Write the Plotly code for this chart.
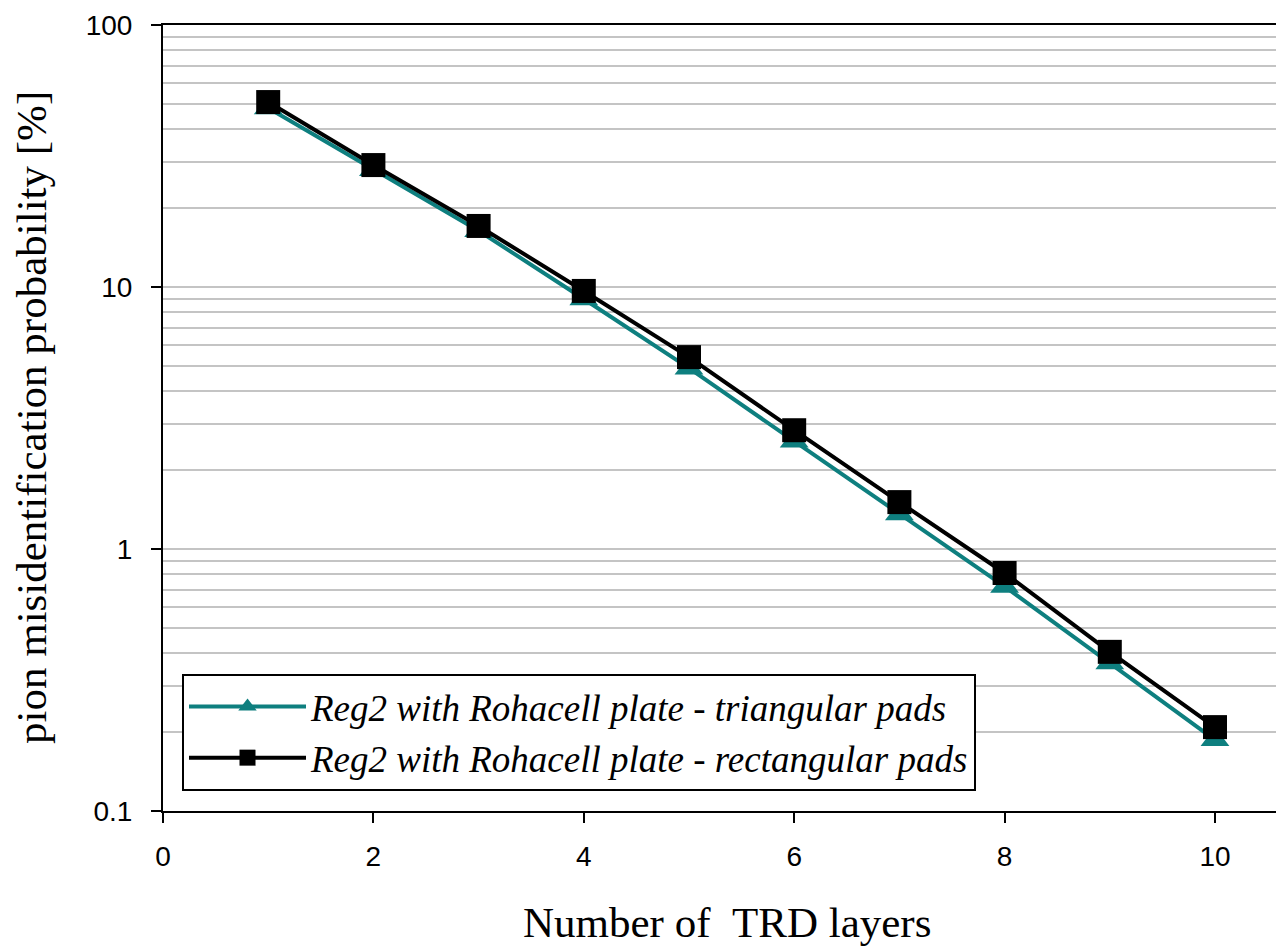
import plotly.graph_objects as go

# TRD layer count and pion misidentification probability (%)
layers = [1, 2, 3, 4, 5, 6, 7, 8, 9, 10]
triangular_pads = [48.2, 28.0, 16.4, 9.0, 4.9, 2.58, 1.36, 0.72, 0.367, 0.187]
rectangular_pads = [50.8, 29.2, 17.1, 9.66, 5.4, 2.84, 1.51, 0.81, 0.405, 0.209]

x_ticks = [0, 2, 4, 6, 8, 10]
y_major = [0.1, 1, 10, 100]
y_major_text = ["0.1", "1", "10", "100"]
y_minor = [m * d for d in (0.1, 1, 10) for m in range(2, 10)] + [1, 10]

teal = "#0e7f7f"
W, H = 1276, 948
L, R, T, B = 163, 0, 25, 137
plot_w, plot_h = W - L - R, H - T - B

fig = go.Figure()
fig.add_trace(go.Scatter(
    x=layers, y=triangular_pads, mode="lines+markers",
    name="Reg2 with Rohacell plate - triangular pads",
    line=dict(color=teal, width=4),
    marker=dict(symbol="triangle-up", size=25, color=teal),
))
fig.add_trace(go.Scatter(
    x=layers, y=rectangular_pads, mode="lines+markers",
    name="Reg2 with Rohacell plate - rectangular pads",
    line=dict(color="black", width=4),
    marker=dict(symbol="square", size=24, color="black"),
))

fig.update_layout(
    width=W, height=H,
    margin=dict(l=L, r=R, t=T, b=B),
    plot_bgcolor="white", paper_bgcolor="white",
    showlegend=True,
    legend=dict(
        x=(182 - L) / plot_w, y=(811 - 791) / plot_h,
        xanchor="left", yanchor="bottom",
        bordercolor="black", borderwidth=2, bgcolor="white",
        font=dict(family="Liberation Serif", size=37, color="black", style="italic"),
        itemwidth=117, tracegroupgap=0,
    ),
    xaxis=dict(
        range=[0, 10.58], tickvals=x_ticks,
        showline=True, linecolor="black", linewidth=2, mirror=True,
        ticks="outside", ticklen=10, tickwidth=2, tickcolor="black",
        showgrid=False, zeroline=False, ticklabelstandoff=9,
        tickfont=dict(family="Liberation Sans", size=28, color="black"),
    ),
    yaxis=dict(
        type="log", range=[-1, 2],
        tickvals=y_major, ticktext=y_major_text,
        showline=True, linecolor="black", linewidth=2,
        ticks="outside", ticklen=10, tickwidth=2, tickcolor="black",
        showgrid=False, zeroline=False, ticklabelstandoff=13,
        tickfont=dict(family="Liberation Sans", size=28, color="black"),
        minor=dict(tickmode="array", tickvals=y_minor, showgrid=True,
                   gridcolor="#c4c4c4", gridwidth=2, ticks=""),
    ),
)

title_font = dict(family="Liberation Serif", size=43, color="black")
fig.add_annotation(
    text="Number of&nbsp;&nbsp;TRD layers", xref="paper", yref="paper",
    x=(727 - L) / plot_w, y=(811 - 922) / plot_h,
    xanchor="center", yanchor="middle", showarrow=False, font=title_font,
)
fig.add_annotation(
    text="pion misidentification probability [%]", xref="paper", yref="paper",
    x=(31 - L) / plot_w, y=0.5, textangle=-90,
    xanchor="center", yanchor="middle", showarrow=False, font=title_font,
)

fig.write_html("out.html")
